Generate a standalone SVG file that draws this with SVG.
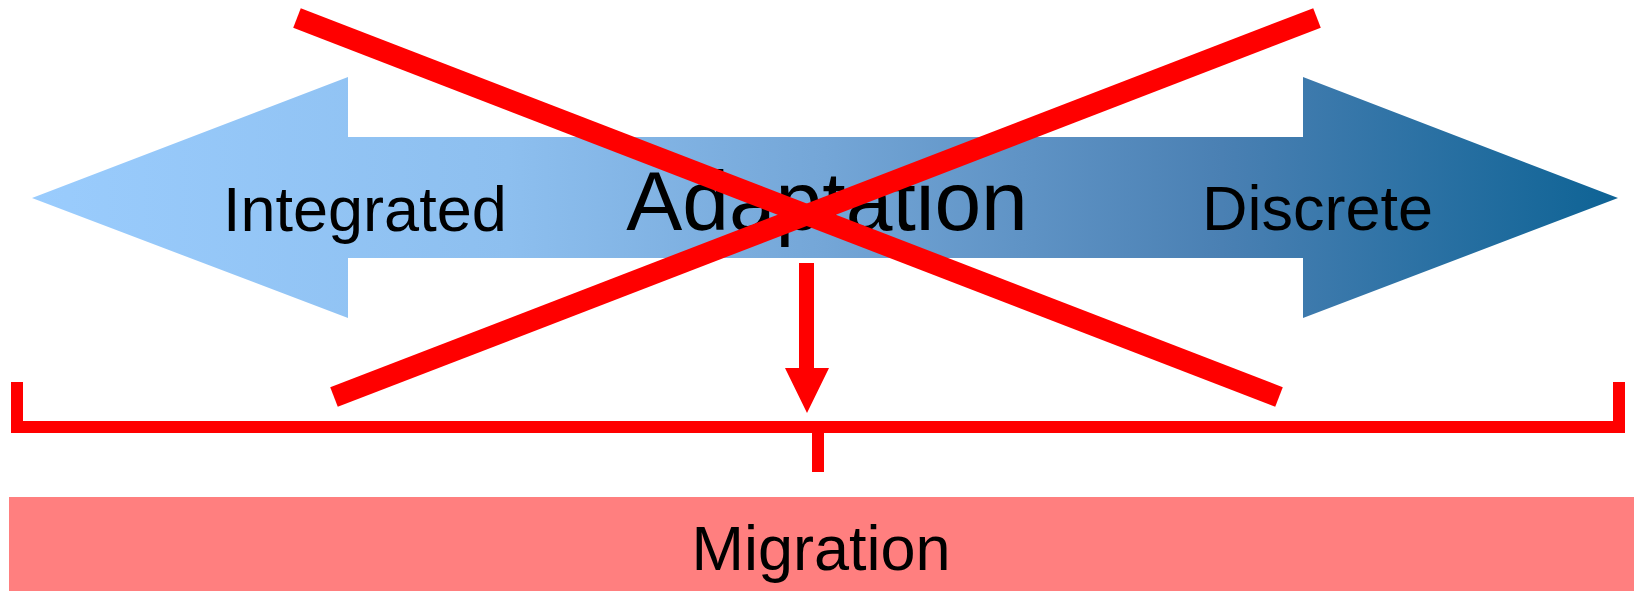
<svg xmlns="http://www.w3.org/2000/svg" width="1634" height="591" viewBox="0 0 1634 591">
  <defs>
    <linearGradient id="blueGrad" gradientUnits="userSpaceOnUse" x1="32" y1="0" x2="1618" y2="0">
      <stop offset="0" stop-color="#9ACCFD"/>
      <stop offset="0.3" stop-color="#8DBFEF"/>
      <stop offset="0.5" stop-color="#74A6D7"/>
      <stop offset="0.75" stop-color="#4A80B3"/>
      <stop offset="1" stop-color="#0E6395"/>
    </linearGradient>
  </defs>
  <style>
    .lbl { font-family: "Liberation Sans", Arial, sans-serif; fill: #000000; }
    .red { stroke: #FF0000; fill: none; }
    .redfill { fill: #FF0000; }
  </style>
  <rect width="1634" height="591" fill="#FFFFFF"/>

  <g id="spectrum">
    <path d="M32,198 L348,77 L348,137 L1303,137 L1303,77 L1618,198 L1303,318 L1303,258 L348,258 L348,318 Z" fill="url(#blueGrad)"/>
    <text class="lbl" x="223" y="231" font-size="63">Integrated</text>
    <text class="lbl" x="827" y="230" font-size="84" text-anchor="middle">Adaptation</text>
    <text class="lbl" x="1202" y="230" font-size="63">Discrete</text>
  </g>

  <g id="migration">
    <rect x="9" y="497" width="1625" height="94" fill="#FF7F7F"/>
    <text class="lbl" x="821" y="570" font-size="63" text-anchor="middle">Migration</text>
  </g>

  <g id="connectors">
    <line class="red" x1="297" y1="18" x2="1279" y2="397" stroke-width="21"/>
    <line class="red" x1="1317" y1="18" x2="334" y2="397" stroke-width="21"/>
    <path class="redfill" d="M799,263 H814 V368 H829 L807,413 L785,368 H799 Z"/>
    <path class="red" d="M17,382 V427 H1619 V382" stroke-width="12" stroke-linejoin="miter"/>
    <rect class="redfill" x="812" y="421" width="12" height="51"/>
  </g>
</svg>
